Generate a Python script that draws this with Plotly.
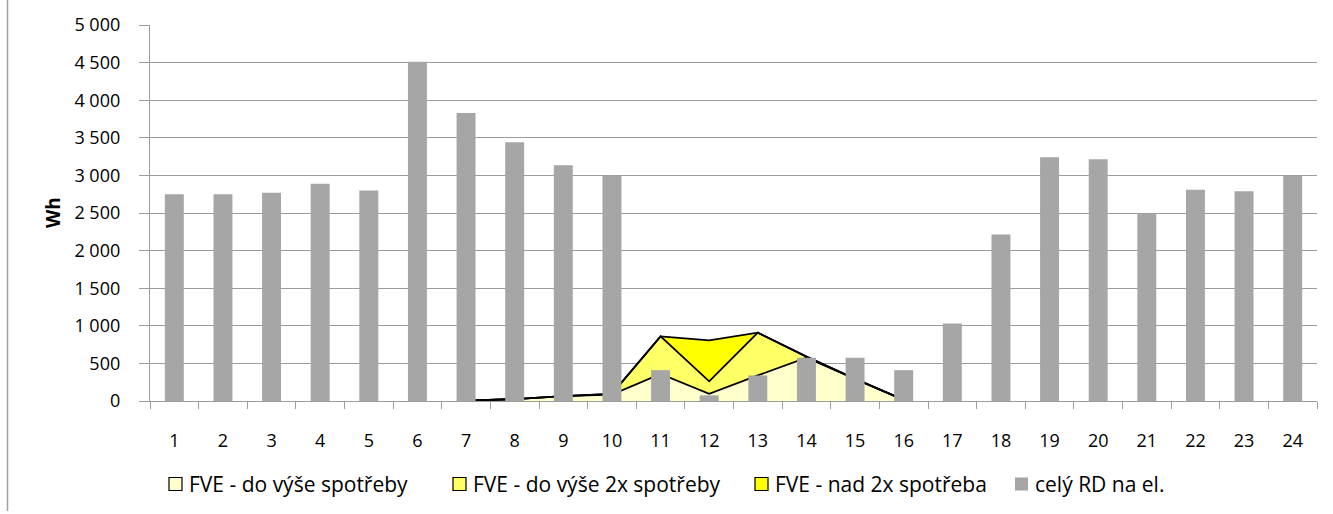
import plotly.graph_objects as go

# ---- data ----
hours = ["1", "2", "3", "4", "5", "6", "7", "8", "9", "10", "11", "12",
         "13", "14", "15", "16", "17", "18", "19", "20", "21", "22", "23", "24"]
rd_total = [2750, 2750, 2770, 2890, 2800, 4510, 3830, 3440, 3135, 3000, 410, 75,
            340, 575, 575, 410, 1030, 2215, 3240, 3215, 2490, 2810, 2790, 2995]

fve_hours = ["7", "8", "9", "10", "11", "12", "13", "14", "15", "16"]
fve_do_spotreby = [5, 25, 65, 85, 360, 95, 340, 575, 295, 15]
fve_do_2x = [0, 0, 0, 10, 500, 166, 570, 15, 0, 0]
fve_nad_2x = [0, 0, 0, 0, 0, 544, 0, 0, 0, 0]

y_ticks = [0, 500, 1000, 1500, 2000, 2500, 3000, 3500, 4000, 4500, 5000]
y_tick_text = ["0", "500", "1 000", "1 500", "2 000", "2 500", "3 000",
               "3 500", "4 000", "4 500", "5 000"]

names = ["FVE - do výše spotřeby", "FVE - do výše 2x spotřeby",
         "FVE - nad 2x spotřeba", "celý RD na el."]
colors = ["#FFFFCC", "#FFFF66", "#FFFF00", "#A6A6A6"]

# ---- layout geometry ----
W, H = 1333, 514
ML, MR, MT, MB = 150, 16, 25, 113
PW, PH = W - ML - MR, H - MT - MB
FONT = "Open Sans"
GRID = "#9C9C9C"


def px(x):
    return (x - ML) / PW


def py(y):
    return (H - MB - y) / PH


fig = go.Figure()

for name, vals, col in zip(names[:3], [fve_do_spotreby, fve_do_2x, fve_nad_2x], colors[:3]):
    fig.add_trace(go.Scatter(
        x=fve_hours, y=vals, name=name, stackgroup="fve", mode="lines",
        line=dict(color="black", width=1.8), fillcolor=col,
        showlegend=False, xaxis="x", yaxis="y"))

fig.add_trace(go.Bar(
    x=hours, y=rd_total, name=names[3], marker=dict(color=colors[3], line=dict(width=0)),
    showlegend=False, xaxis="x2", yaxis="y2"))

fig.update_layout(
    width=W, height=H,
    margin=dict(l=ML, r=MR, t=MT, b=MB, pad=0),
    paper_bgcolor="white", plot_bgcolor="white",
    font=dict(family=FONT, size=18, color="black"),
    bargap=0.61,
    xaxis=dict(type="category", categoryorder="array", categoryarray=hours,
               range=[-0.5, 23.5], tickson="boundaries", ticks="outside",
               ticklen=7, tickcolor=GRID, tickwidth=1.3,
               showline=True, linecolor=GRID, linewidth=1.3,
               showgrid=False, zeroline=False, ticklabelstandoff=23,
               tickfont=dict(family=FONT, size=18)),
    yaxis=dict(range=[0, 5000], tickvals=y_ticks, ticktext=y_tick_text,
               ticks="outside", ticklen=10, tickcolor=GRID, tickwidth=1.3,
               showline=True, linecolor=GRID, linewidth=1.3,
               showgrid=True, gridcolor=GRID, gridwidth=1.3, zeroline=False,
               ticklabelstandoff=15, tickfont=dict(family=FONT, size=18)),
    xaxis2=dict(type="category", categoryorder="array", categoryarray=hours,
                range=[-0.5, 23.5], overlaying="x", visible=False),
    yaxis2=dict(range=[0, 5000], overlaying="y", visible=False),
)

# y-axis title
fig.add_annotation(text="<b>Wh</b>", xref="paper", yref="paper", x=px(53), y=py(213),
                   showarrow=False, textangle=-90, font=dict(family=FONT, size=19),
                   xanchor="center", yanchor="middle")

# left frame line
fig.add_shape(type="line", xref="paper", yref="paper", x0=px(7.5), x1=px(7.5),
              y0=py(0), y1=py(511), line=dict(color="#A0A0A0", width=1.5))

# manual legend
legend_x = [169, 453, 755, 1015]
legend_y = 484
for lx, name, col, border in zip(legend_x, names, colors, [True, True, True, False]):
    fig.add_shape(type="rect", xref="paper", yref="paper",
                  x0=px(lx), x1=px(lx + 13), y0=py(legend_y - 6.5), y1=py(legend_y + 6.5),
                  fillcolor=col,
                  line=dict(color="black" if border else col, width=1.2 if border else 0))
    fig.add_annotation(text=name, xref="paper", yref="paper", x=px(lx + 18), y=py(legend_y),
                       showarrow=False, xanchor="left", yanchor="middle",
                       font=dict(family=FONT, size=21))

fig.write_html("out.html", config={"displayModeBar": False},
               post_script="document.body.style.margin='0';")
